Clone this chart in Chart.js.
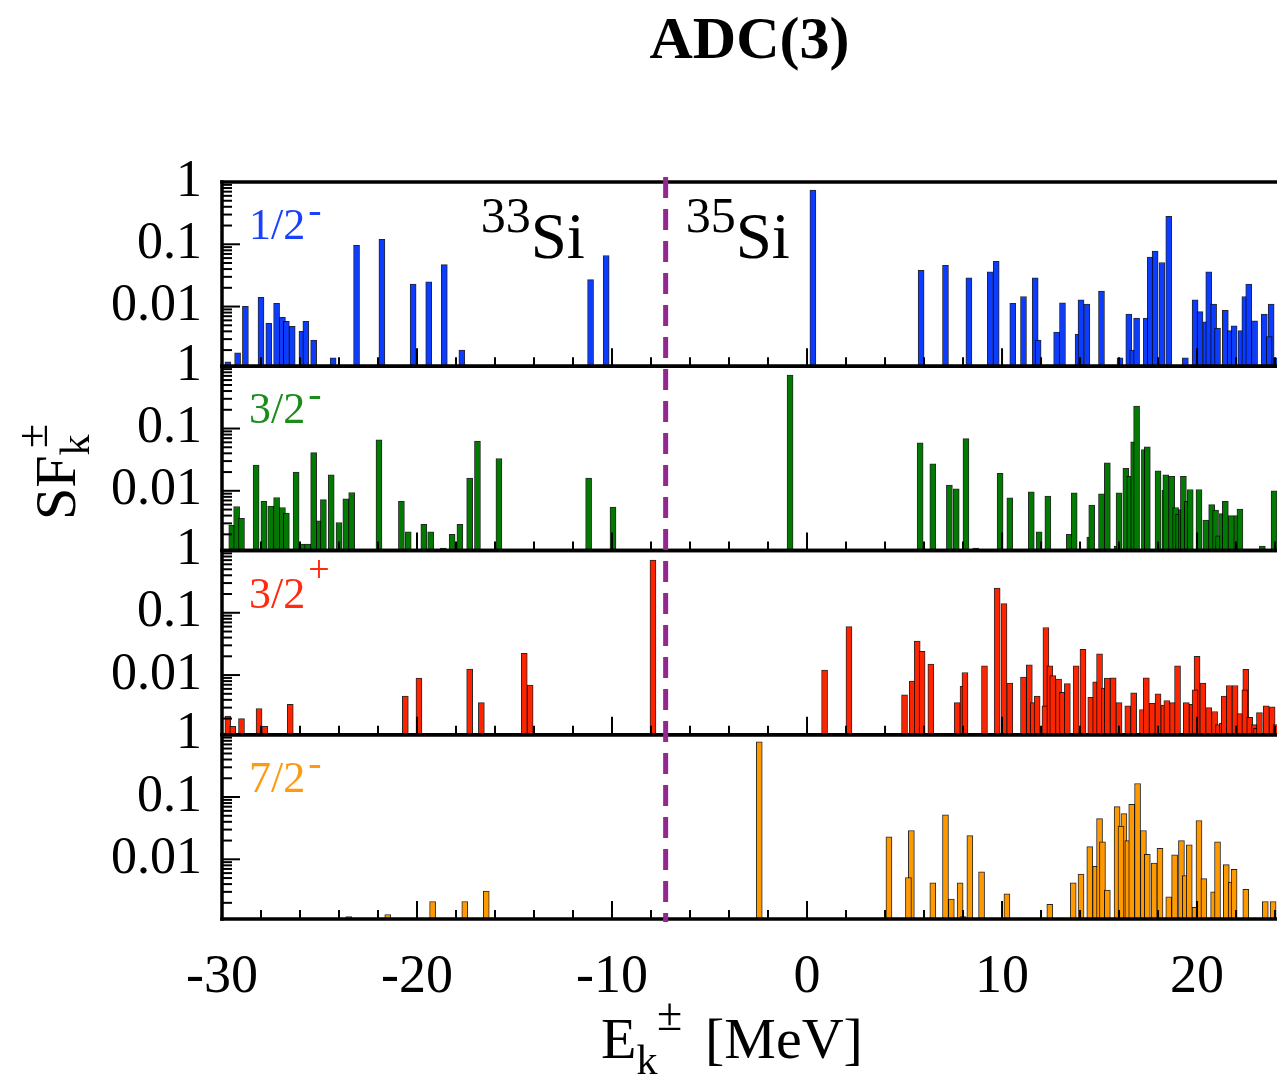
<!DOCTYPE html>
<html>
<head>
<meta charset="utf-8">
<script src="https://cdn.jsdelivr.net/npm/chart.js@4/dist/chart.umd.min.js"></script>
<style>
  html, body { margin: 0; padding: 0; background: #fff; }
  #wrap { width: 1277px; height: 1081px; position: relative; }
</style>
</head>
<body>
<div id="wrap"><canvas id="sf"></canvas></div>
<script>
// Spectroscopic factors SF_k^± vs. quasiparticle energy E_k^± (MeV), ADC(3)
// one panel per partial wave; removal (33Si) left of the divider, addition (35Si) right

const panelNames = ['1/2', '3/2', '3/2', '7/2'];
const panelParity = ['-', '-', '+', '-'];
const panelColors = ['#0b3cff', '#007a00', '#ff2400', '#ff9900'];
const labelColors = ['#1a40ff', '#1a8c1a', '#ff2a10', '#ff9a10'];

const xTicks = [-30, -20, -10, 0, 10, 20];
const yTicks = [0.01, 0.1, 1];
const fermiDivide = -7.25;   // separation between 33Si and 35Si states

// 1/2-
const energyP12 = [-29.7, -29.2, -28.8, -28.0, -27.6, -27.2, -26.9, -26.7, -26.4, -25.9, -25.7, -25.3, -24.3,
  -23.1, -21.8, -20.2, -19.4, -18.6, -17.7, -11.1, -10.3, 0.3, 5.85, 7.1, 8.3, 9.4, 9.7, 10.55, 11.1, 11.7,
  11.85, 12.8, 13.1, 13.9, 14.05, 14.35, 15.1, 16.05, 16.5, 16.7, 16.9, 17.4, 17.6, 17.85, 18.2, 18.55, 19.4,
  19.9, 20.15, 20.45, 20.6, 20.85, 21.05, 21.45, 21.7, 21.9, 22.25, 22.45, 22.65, 22.95, 23.45, 23.8, 23.7, 24.05];
const sfP12 = [0.0013, 0.0018, 0.0101, 0.014, 0.0054, 0.0113, 0.0067, 0.0058, 0.0048, 0.0040, 0.0058, 0.0029, 0.0015,
  0.096, 0.12, 0.023, 0.025, 0.047, 0.0020, 0.027, 0.066, 0.74, 0.038, 0.046, 0.029, 0.036, 0.053, 0.0113, 0.0145, 0.029,
  0.0029, 0.0039, 0.0115, 0.0036, 0.0128, 0.011, 0.0177, 0.0015, 0.0076, 0.002, 0.0065, 0.0065, 0.062, 0.078, 0.051, 0.28, 0.0015,
  0.0128, 0.0083, 0.0057, 0.036, 0.011, 0.0045, 0.0087, 0.0041, 0.0049, 0.0041, 0.0145, 0.023, 0.0059, 0.0076, 0.011, 0.0033, 0.0015];

// 3/2-
const energyP32 = [-29.5, -29.25, -29.0, -28.25, -27.85, -27.5, -27.2, -26.9, -26.7, -26.2, -25.9, -25.6, -25.3,
  -25.0, -24.8, -24.4, -24.0, -23.65, -23.35, -21.95, -20.8, -20.45, -19.65, -19.3, -18.65, -18.2, -17.8, -17.3,
  -16.9, -15.8, -11.2, -9.95, -0.87, 5.8, 6.45, 7.3, 7.65, 8.15, 8.65, 9.9, 10.4, 11.5, 11.9, 12.35, 13.45, 13.7,
  14.5, 14.6, 15.1, 15.4, 15.9, 16.0, 16.35, 16.55, 16.75, 16.9, 17.3, 17.45, 18.0, 18.35, 18.4, 18.7, 18.9, 19.05,
  19.2, 19.3, 19.5, 19.65, 20.1, 20.45, 20.75, 20.95, 21.1, 21.3, 21.45, 21.75, 22.05, 22.2, 23.35, 23.95];
const sfP32 = [0.0028, 0.0056, 0.0036, 0.026, 0.0068, 0.0057, 0.0078, 0.0054, 0.0044, 0.020, 0.0014, 0.0014, 0.041,
  0.0033, 0.0072, 0.018, 0.0031, 0.0074, 0.0094, 0.066, 0.0068, 0.0022, 0.0029, 0.0022, 0.0012, 0.0020, 0.0029, 0.016,
  0.063, 0.033, 0.016, 0.0055, 0.72, 0.059, 0.027, 0.0123, 0.0108, 0.069, 0.0012, 0.019, 0.0077, 0.0096, 0.0022, 0.0082, 0.0020, 0.0093,
  0.0018, 0.0059, 0.0089, 0.028, 0.0013, 0.0093, 0.023, 0.017, 0.061, 0.23, 0.046, 0.051, 0.021, 0.0103, 0.018, 0.017, 0.0054, 0.0042,
  0.005, 0.017, 0.0068, 0.0105, 0.0105, 0.0034, 0.006, 0.0049, 0.0019, 0.0043, 0.0068, 0.004, 0.004, 0.0051, 0.0013, 0.01];

// 3/2+
const energyP32p = [-29.7, -29.45, -29.0, -28.1, -27.8, -26.5, -20.6, -19.9, -17.3, -16.7, -14.5, -14.2, -7.9,
  0.9, 2.15, 5.0, 5.4, 5.65, 5.9, 6.35, 7.7, 8.0, 8.1, 9.1, 9.75, 10.1, 10.4, 11.1, 11.4, 11.6, 11.8, 12.25, 12.2,
  12.45, 12.6, 12.9, 13.1, 13.35, 13.8, 14.15, 14.55, 14.8, 15.0, 15.25, 15.4, 15.7, 16.0, 16.45, 16.75, 17.2, 17.4,
  17.7, 18.0, 18.3, 18.45, 18.75, 19.0, 19.45, 19.75, 20.0, 19.9, 20.3, 20.6, 20.9, 21.1, 21.3, 21.4, 21.65, 21.95,
  22.2, 22.5, 22.45, 22.7, 22.95, 23.05, 23.2, 23.55, 23.85, 24.05];
const sfP32p = [0.0022, 0.0015, 0.002, 0.0029, 0.0015, 0.0034, 0.0046, 0.0089, 0.0125, 0.0036, 0.0224, 0.0069, 0.70,
  0.012, 0.060, 0.0048, 0.008, 0.035, 0.024, 0.015, 0.0036, 0.0066, 0.011, 0.014, 0.25, 0.14, 0.0074, 0.0093, 0.0146, 0.0036, 0.0046, 0.058, 0.0032,
  0.014, 0.0098, 0.0086, 0.0053, 0.0073, 0.014, 0.026, 0.0044, 0.0078, 0.022, 0.0062, 0.0089, 0.009, 0.0036, 0.0032, 0.0052, 0.0028, 0.009,
  0.0035, 0.005, 0.0033, 0.0039, 0.0036, 0.014, 0.0036, 0.0034, 0.020, 0.0058, 0.0074, 0.003, 0.0026, 0.0016, 0.0017, 0.0046, 0.0068, 0.0068,
  0.0024, 0.0123, 0.0058, 0.0021, 0.0016, 0.0014, 0.0025, 0.0032, 0.0031, 0.0016];

// 7/2-
const energyP72 = [-23.5, -21.5, -19.2, -17.55, -16.45, -2.45, 4.2, 5.35, 5.2, 6.45, 7.1, 7.4, 7.85, 8.0, 8.35, 8.95,
  10.25, 12.45, 13.65, 14.05, 14.5, 14.8, 15.0, 15.15, 15.4, 15.9, 16.25, 16.1, 16.45, 16.65, 16.95, 17.25, 17.45,
  17.8, 18.1, 18.55, 18.85, 19.2, 19.4, 19.6, 19.9, 20.1, 20.35, 20.85, 21.05, 21.5, 21.75, 21.9, 22.5, 23.5, 23.9];
const sfP72 = [0.0012, 0.0013, 0.0021, 0.0021, 0.0031, 0.77, 0.023, 0.029, 0.0051, 0.0042, 0.052, 0.0023, 0.0042, 0.0012, 0.024, 0.0063,
  0.0028, 0.0019, 0.0042, 0.0058, 0.016, 0.0077, 0.045, 0.019, 0.0032, 0.07, 0.054, 0.034, 0.02, 0.076, 0.165, 0.029, 0.012,
  0.0087, 0.015, 0.0025, 0.0118, 0.02, 0.0055, 0.017, 0.0017, 0.042, 0.0049, 0.003, 0.019, 0.0082, 0.0043, 0.0069, 0.0033, 0.0021, 0.0021];

const panelEnergies = [energyP12, energyP32, energyP32p, energyP72];
const panelSF = [sfP12, sfP32, sfP32p, sfP72];
const panelIds = ['p1', 'p2', 'p3', 'p4'];

const SERIF = '"Liberation Serif", "Times New Roman", serif';

const datasets = panelIds.map((id, i) => ({
  label: panelNames[i] + panelParity[i],
  yAxisID: id,
  data: panelEnergies[i].map((e, k) => ({ x: e, y: panelSF[i][k] })),
  backgroundColor: panelColors[i],
  borderColor: 'rgba(0,0,0,0.85)',
  borderWidth: 1,
  barThickness: 6,
  grouped: false
}));

function yScale() {
  return {
    type: 'logarithmic',
    position: 'left',
    stack: 'panels',
    stackWeight: 1,
    min: 0.0011,
    max: 1,
    bounds: 'data',
    grid: { display: false },
    border: { display: false },
    afterBuildTicks: s => { s.ticks = yTicks.map(v => ({ value: v })); },
    afterFit: s => { s.width = 222; },
    ticks: {
      color: '#000',
      padding: 12,
      font: { family: SERIF, size: 52 },
      callback: v => (v >= 1 ? '1' : String(v))
    }
  };
}

const scales = {
  x: {
    type: 'linear',
    min: -30,
    max: 24.1,
    offset: false,
    grid: { display: false },
    border: { display: false },
    afterBuildTicks: s => { s.ticks = xTicks.map(v => ({ value: v })); },
    afterFit: s => { s.height = 162; },
    ticks: {
      color: '#000',
      padding: 18,
      maxRotation: 0,
      font: { family: SERIF, size: 54 },
      callback: v => String(v)
    }
  }
};
// later stack entries sit higher, so add the bottom panel first
for (let i = panelIds.length - 1; i >= 0; i--) scales[panelIds[i]] = yScale();

function line(ctx, x1, y1, x2, y2) {
  ctx.beginPath();
  ctx.moveTo(x1, y1);
  ctx.lineTo(x2, y2);
  ctx.stroke();
}

// draws pieces of text one after another: [{t, size, dy, at, gap}]
function richText(ctx, parts, x, y, color) {
  ctx.fillStyle = color;
  ctx.textBaseline = 'alphabetic';
  ctx.textAlign = 'left';
  let cx = x;
  parts.forEach(p => {
    ctx.font = p.size + 'px ' + SERIF;
    if (p.at !== undefined) cx = x + p.at;
    ctx.fillText(p.t, cx, y + (p.dy || 0));
    cx += ctx.measureText(p.t).width + (p.gap || 0);
  });
}

// box frame, inward ticks, divider and all the annotation text
const framePlugin = {
  id: 'frame',
  afterDatasetsDraw(chart) {
    const ctx = chart.ctx;
    const xs = chart.scales.x;
    const area = chart.chartArea;
    ctx.save();
    ctx.strokeStyle = '#000';
    ctx.lineCap = 'butt';

    panelIds.forEach((id, i) => {
      const ys = chart.scales[id];
      ctx.lineWidth = 2;
      for (let v = -30; v <= xs.max; v += 2) {
        const px = xs.getPixelForValue(v);
        line(ctx, px, ys.bottom, px, ys.bottom - (v % 10 === 0 ? 18 : 9));
      }
      for (let d = -3; d <= 0; d++) {
        for (let m = 1; m <= 9; m++) {
          const v = m * Math.pow(10, d);
          if (v < ys.min || v > ys.max * 1.0001) continue;
          const py = ys.getPixelForValue(v);
          line(ctx, area.left, py, area.left + (m === 1 ? 18 : 10), py);
        }
      }
      ctx.lineWidth = 3.5;
      line(ctx, area.left - 1.75, ys.top, area.right, ys.top);
      line(ctx, area.left - 1.75, ys.bottom, area.right, ys.bottom);

      // partial-wave label
      const base = ys.top + 57;
      const sup = panelParity[i] === '+'
        ? { t: '+', size: 38, dy: -26 }
        : { t: '-', size: 40, dy: -16 };
      richText(ctx, [{ t: panelNames[i], size: 44, gap: 3 }, sup], area.left + 27, base, labelColors[i]);
    });
    ctx.lineWidth = 3.5;
    line(ctx, area.left, area.top - 1.75, area.left, area.bottom + 1.75);

    // divider between removal and addition spectra
    const dx = xs.getPixelForValue(fermiDivide);
    ctx.strokeStyle = '#93278f';
    ctx.lineWidth = 5;
    ctx.setLineDash([21, 11]);
    line(ctx, dx, area.top - 5, dx, area.bottom + 3);
    ctx.setLineDash([]);

    // nucleus names
    richText(ctx, [{ t: '33', size: 50, dy: -26 }, { t: 'Si', size: 65 }], dx - 185, area.top + 76, '#000');
    richText(ctx, [{ t: '35', size: 50, dy: -26 }, { t: 'Si', size: 65 }], dx + 20, area.top + 76, '#000');

    // x axis title
    richText(ctx, [
      { t: 'E', size: 58 },
      { t: 'k', size: 42, dy: 16 },
      { t: '\u00b1', size: 46, dy: -28, at: 56 },
      { t: '[MeV]', size: 58, at: 104 }
    ], 601, 1058, '#000');

    // y axis title, rotated
    ctx.translate(75, 520);
    ctx.rotate(-Math.PI / 2);
    richText(ctx, [
      { t: 'SF', size: 58 },
      { t: 'k', size: 42, dy: 14 },
      { t: '\u00b1', size: 44, dy: -28, at: 72 }
    ], 0, 0, '#000');
    ctx.restore();
  }
};

new Chart(document.getElementById('sf'), {
  type: 'bar',
  data: { datasets },
  options: {
    responsive: true,
    maintainAspectRatio: false,
    animation: false,
    layout: { padding: { left: 0, right: 0, top: 0, bottom: 0 } },
    scales,
    plugins: {
      legend: { display: false },
      tooltip: { enabled: false },
      title: {
        display: true,
        text: 'ADC(3)',
        fullSize: false,
        color: '#000',
        font: { family: SERIF, size: 60, weight: 'bold' },
        padding: { top: 6, bottom: 104 }
      }
    }
  },
  plugins: [framePlugin]
});
</script>
</body>
</html>
